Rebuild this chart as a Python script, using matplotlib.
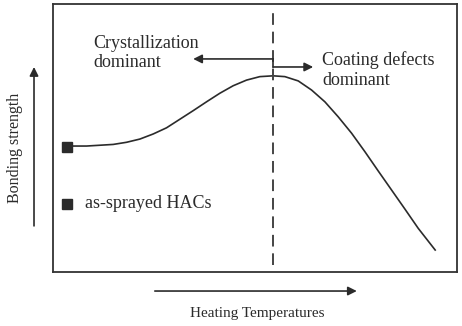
import numpy as np
import matplotlib
matplotlib.use('Agg')
import matplotlib.pyplot as plt

plt.rcParams['font.family'] = ['Liberation Serif', 'DejaVu Serif']

# Bonding strength curve (arbitrary units 0-100)
temp = [3.4, 4.6, 8.3, 11.6, 14.9, 18.2, 21.5, 24.8, 28.1, 31.4, 34.7,
        38.0, 41.3, 44.6, 47.9, 51.2, 54.5, 57.4, 60.7, 64.0, 67.3,
        70.6, 73.9, 77.2, 80.5, 83.8, 87.1, 90.4, 94.6]
strength = [46.9, 47.0, 47.0, 47.3, 47.6, 48.4, 49.6, 51.5, 53.8, 57.0,
            60.2, 63.5, 66.7, 69.5, 71.6, 72.9, 73.2, 72.9, 71.3, 67.9,
            63.5, 57.9, 51.8, 44.9, 37.7, 30.6, 23.5, 16.3, 8.2]

# as-sprayed point and the transition temperature
as_sprayed = (3.4, 46.7)
t_peak = 54.5

ink = '#2b2b2b'

fig = plt.figure(figsize=(4.62, 3.26), dpi=100)
ax = fig.add_axes([53 / 462, 54 / 326, 404 / 462, 268 / 326])
ax.set_xlim(0, 100)
ax.set_ylim(0, 100)
ax.set_xticks([])
ax.set_yticks([])
for s in ax.spines.values():
    s.set_color('#333333')
    s.set_linewidth(1.3)

# curve and as-sprayed marker
ax.plot(temp, strength, color=ink, lw=1.2, solid_joinstyle='round')
ax.plot(*as_sprayed, 's', color=ink, ms=7.5)

# transition line
ax.plot([t_peak, t_peak], [2.6, 97.8], color='#444444', lw=1.4,
        dashes=(6, 3.5))

# regime arrows
ax.plot([t_peak, t_peak], [79.5, 76.5], color=ink, lw=1.2)
ax.annotate('', xy=(34.7, 79.5), xytext=(t_peak, 79.5),
            arrowprops=dict(arrowstyle='-|>', color=ink, lw=1.2,
                            mutation_scale=13, shrinkA=0, shrinkB=0))
ax.annotate('', xy=(64.4, 76.5), xytext=(t_peak, 76.5),
            arrowprops=dict(arrowstyle='-|>', color=ink, lw=1.2,
                            mutation_scale=13, shrinkA=0, shrinkB=0))

ax.text(9.9, 81.7, 'Crystallization\ndominant', fontsize=13, color=ink,
        ha='left', va='center', linespacing=1.2)
ax.text(66.6, 75.4, 'Coating defects\ndominant', fontsize=13, color=ink,
        ha='left', va='center', linespacing=1.2)

# legend
ax.plot(3.4, 25.4, 's', color=ink, ms=7.5)
ax.text(7.9, 25.4, 'as-sprayed HACs', fontsize=13, color=ink,
        ha='left', va='center')

# outer axis arrows
ax.annotate('', xy=(-4.7, 76.5), xytext=(-4.7, 17.2), annotation_clip=False,
            arrowprops=dict(arrowstyle='-|>', color=ink, lw=1.2,
                            mutation_scale=13, shrinkA=0, shrinkB=0))
ax.annotate('', xy=(75.2, -7.1), xytext=(25.2, -7.1), annotation_clip=False,
            arrowprops=dict(arrowstyle='-|>', color=ink, lw=1.2,
                            mutation_scale=13, shrinkA=0, shrinkB=0))
ax.text(-9.4, 46.3, 'Bonding strength', fontsize=11.5, color=ink,
        rotation=90, ha='center', va='center', clip_on=False)
ax.text(50.5, -15.3, 'Heating Temperatures', fontsize=11, color=ink,
        ha='center', va='center', clip_on=False)

fig.savefig('out.png', dpi=100)
